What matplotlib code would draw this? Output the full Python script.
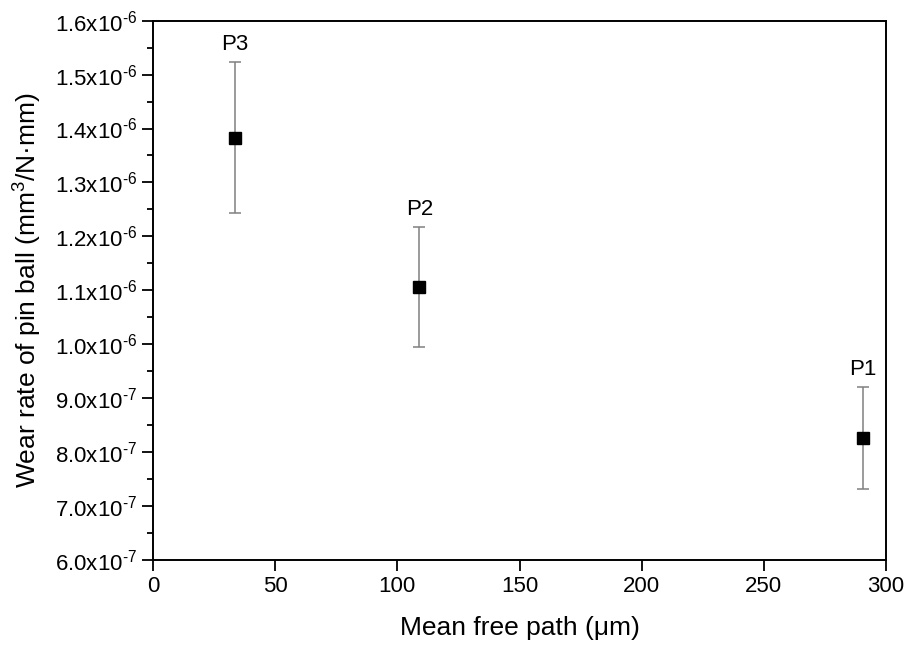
import matplotlib
matplotlib.use('Agg')
import matplotlib.pyplot as plt
from matplotlib.ticker import MultipleLocator

plt.rcParams['font.family'] = ['Liberation Sans', 'DejaVu Sans']
plt.rcParams['mathtext.fontset'] = 'custom'
plt.rcParams['mathtext.rm'] = 'Liberation Sans'
plt.rcParams['mathtext.it'] = 'Liberation Sans:italic'

# data
names = ['P3', 'P2', 'P1']
mean_free_path = [33.4, 109.0, 290.5]
wear_rate = [1.383e-6, 1.106e-6, 0.826e-6]
wear_err = [0.140e-6, 0.112e-6, 0.095e-6]

y_ticks = [6e-7, 7e-7, 8e-7, 9e-7, 1.0e-6, 1.1e-6, 1.2e-6, 1.3e-6, 1.4e-6, 1.5e-6, 1.6e-6]
y_tick_labels = [r'6.0x10$^{\text{-7}}$', r'7.0x10$^{\text{-7}}$', r'8.0x10$^{\text{-7}}$',
                 r'9.0x10$^{\text{-7}}$', r'1.0x10$^{\text{-6}}$', r'1.1x10$^{\text{-6}}$',
                 r'1.2x10$^{\text{-6}}$', r'1.3x10$^{\text{-6}}$', r'1.4x10$^{\text{-6}}$',
                 r'1.5x10$^{\text{-6}}$', r'1.6x10$^{\text{-6}}$']

fig = plt.figure(figsize=(9.06, 6.5), dpi=100)
ax = fig.add_axes([0.1689, 0.1385, 0.8091, 0.8297])

ax.errorbar(mean_free_path, wear_rate, yerr=wear_err, fmt='s', color='black',
            markersize=8.5, ecolor='#808080', elinewidth=1.1, capsize=4,
            capthick=1.1, zorder=3)

for name, x, y, e in zip(names, mean_free_path, wear_rate, wear_err):
    ax.annotate(name, (x, y + e), xytext=(0, 5), textcoords='offset points',
                ha='center', va='bottom', fontsize=16)

ax.set_xlim(0, 300)
ax.set_ylim(6e-7, 1.6e-6)
ax.set_xticks([0, 50, 100, 150, 200, 250, 300])
ax.set_yticks(y_ticks)
ax.set_yticklabels(y_tick_labels)
ax.yaxis.set_minor_locator(MultipleLocator(0.5e-7))

ax.tick_params(axis='both', which='major', direction='out', length=8, width=1.3,
               labelsize=16, top=False, right=False)
ax.tick_params(axis='y', which='minor', direction='out', length=4.5, width=1.3)
for sp in ax.spines.values():
    sp.set_linewidth(1.4)

ax.set_xlabel('Mean free path (μm)', fontsize=19, labelpad=14)
ax.set_ylabel(r'Wear rate of pin ball (mm$^3$/N·mm)', fontsize=19, labelpad=8)

fig.savefig('out.png', dpi=100)
